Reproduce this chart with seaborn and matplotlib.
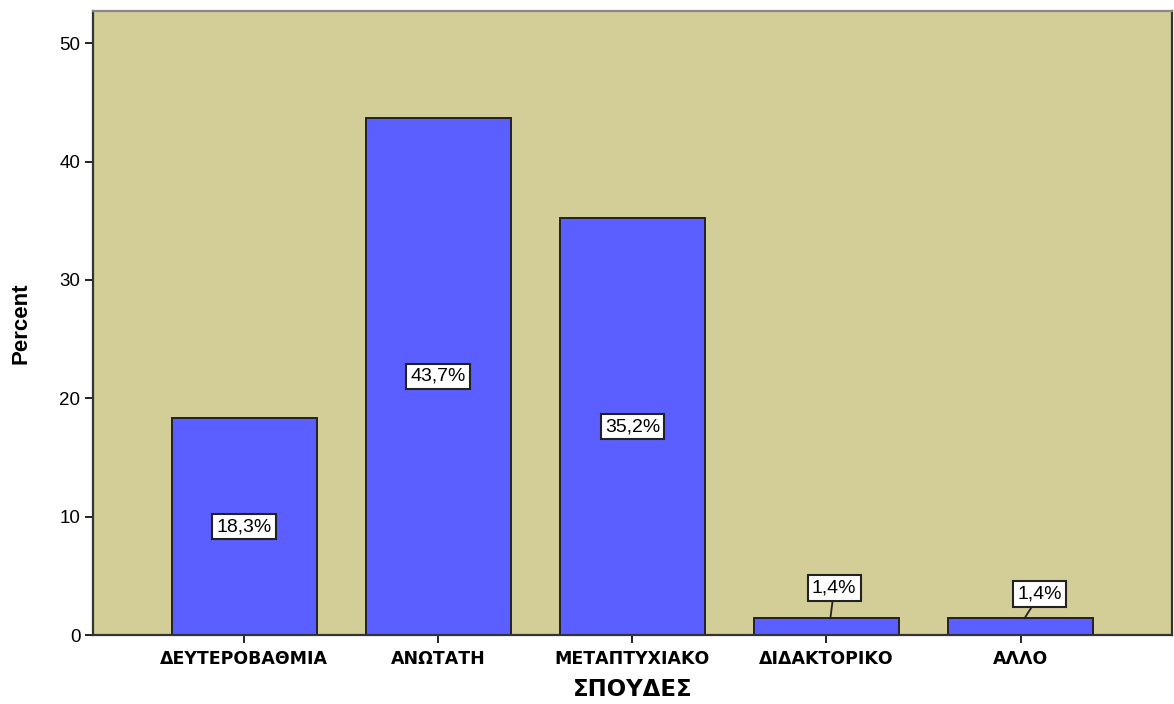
import matplotlib
matplotlib.use("Agg")
import matplotlib.pyplot as plt
import seaborn as sns
import pandas as pd

# Education level distribution (percent of respondents)
categories = ["ΔΕΥΤΕΡΟΒΑΘΜΙΑ", "ΑΝΩΤΑΤΗ", "ΜΕΤΑΠΤΥΧΙΑΚΟ", "ΔΙΔΑΚΤΟΡΙΚΟ", "ΑΛΛΟ"]
percents = [18.3, 43.7, 35.2, 1.4, 1.4]
yticks = [0, 10, 20, 30, 40, 50]

sns.set_theme(style="white")
plt.rcParams["font.family"] = ["DejaVu Sans"]
plt.rcParams["text.color"] = "black"
plt.rcParams["axes.labelcolor"] = "black"
plt.rcParams["xtick.color"] = "black"
plt.rcParams["ytick.color"] = "black"

df = pd.DataFrame({"ΣΠΟΥΔΕΣ": categories, "Percent": percents})

fig = plt.figure(figsize=(11.74, 7.04), dpi=100)
ax = fig.add_axes([0.0792, 0.098, 0.919, 0.886])
ax.set_facecolor("#D3CE98")

sns.barplot(data=df, x="ΣΠΟΥΔΕΣ", y="Percent", order=categories, color="#5B5FFF",
            saturation=1, width=0.75, edgecolor="#222222", linewidth=1.4, ax=ax)

ax.set_xlim(-0.78, 4.78)
ax.set_ylim(0, 52.7)
ax.set_yticks(yticks)
ax.set_yticklabels([str(t) for t in yticks], fontsize=13.5, family="Liberation Sans")
ax.tick_params(axis="both", which="both", direction="out", length=6, width=1.4,
               color="#222222", left=True, bottom=True, pad=3)
ax.tick_params(axis="x", pad=5)
for lab in ax.get_xticklabels():
    lab.set_fontweight("bold")
    lab.set_fontsize(12.5)
ax.set_xlabel("ΣΠΟΥΔΕΣ", fontsize=16.5, fontweight="bold", labelpad=7)
ax.set_ylabel("Percent", fontsize=16, fontweight="bold", family="Liberation Sans", labelpad=20)

for side in ["left", "bottom", "right", "top"]:
    ax.spines[side].set_visible(True)
    ax.spines[side].set_color("#333333")
    ax.spines[side].set_linewidth(1.6)
ax.spines["top"].set_color("#888888")

box = dict(boxstyle="square,pad=0.22", fc="white", ec="#222222", lw=1.5)
label_fmt = lambda v: f"{v:.1f}%".replace(".", ",")

for i, v in enumerate(percents):
    if v > 5:
        ax.text(i, v / 2, label_fmt(v), ha="center", va="center", fontsize=14,
                family="Liberation Sans", bbox=box)

# small bars: labels lifted above the bar with a leader line
small_offsets = {3: (0.04, 3.97), 4: (0.10, 3.46)}
for i, (dx, ty) in small_offsets.items():
    v = percents[i]
    ax.annotate(label_fmt(v), xy=(i + 0.02, v), xytext=(i + dx, ty),
                ha="center", va="center", fontsize=14, family="Liberation Sans",
                bbox=box, arrowprops=dict(arrowstyle="-", color="#222222", lw=1.3,
                                          shrinkA=0, shrinkB=0))

fig.savefig("out.png", dpi=100)
